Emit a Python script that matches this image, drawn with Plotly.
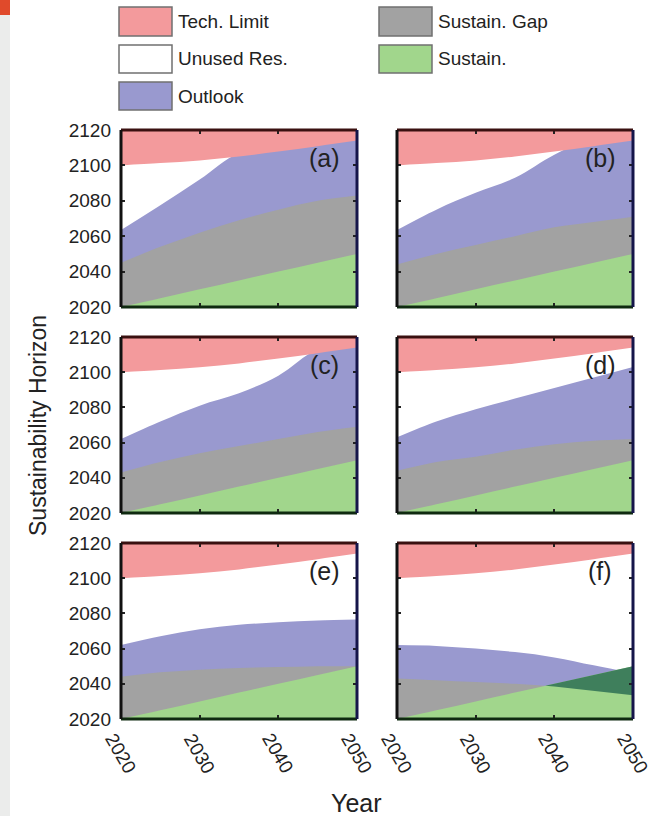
import plotly.graph_objects as go

W, H = 654, 816

# ---------------- data ----------------
YEARS = [2020, 2025, 2030, 2035, 2040, 2045, 2050]
SUSTAIN = [2020, 2025, 2030, 2035, 2040, 2045, 2050]
TECH_LIMIT = [2100, 2101.3, 2102.8, 2105, 2107.8, 2110.8, 2114]

OUTLOOK_UPPER_A = [2063.5, 2077.5, 2092, 2107, 2111, 2114, 2117]
OUTLOOK_LOWER_A = [2045, 2054, 2062, 2069, 2075, 2080, 2083]
OUTLOOK_UPPER_B = [2063.5, 2075, 2084.5, 2093, 2106, 2116, 2119]
OUTLOOK_LOWER_B = [2044, 2050, 2055, 2060, 2065, 2068, 2071]
OUTLOOK_UPPER_C = [2062, 2072, 2081, 2088, 2098, 2113, 2117]
OUTLOOK_LOWER_C = [2043, 2049, 2054, 2058, 2062, 2066, 2069]
OUTLOOK_UPPER_D = [2063, 2072, 2079, 2085, 2091, 2097, 2103]
OUTLOOK_LOWER_D = [2044, 2049, 2052, 2056, 2059, 2061, 2062]
OUTLOOK_UPPER_E = [2062, 2067, 2071, 2073.5, 2075, 2076, 2076.5]
OUTLOOK_LOWER_E = [2044, 2046.5, 2048, 2049, 2049.5, 2050, 2050]
OUTLOOK_UPPER_F = [2062, 2061.5, 2060, 2058, 2055, 2050.5, 2046]
OUTLOOK_LOWER_F = [2043, 2042, 2041, 2040, 2038.5, 2036, 2033.5]

PANEL_LABELS = ["(a)", "(b)", "(c)", "(d)", "(e)", "(f)"]
UPPERS = [OUTLOOK_UPPER_A, OUTLOOK_UPPER_B, OUTLOOK_UPPER_C,
          OUTLOOK_UPPER_D, OUTLOOK_UPPER_E, OUTLOOK_UPPER_F]
LOWERS = [OUTLOOK_LOWER_A, OUTLOOK_LOWER_B, OUTLOOK_LOWER_C,
          OUTLOOK_LOWER_D, OUTLOOK_LOWER_E, OUTLOOK_LOWER_F]

LEGEND_COL1 = ["Tech. Limit", "Unused Res.", "Outlook"]
LEGEND_COL2 = ["Sustain. Gap", "Sustain."]
X_TICKS = [2020, 2030, 2040, 2050]
Y_TICKS = [2020, 2040, 2060, 2080, 2100, 2120]

# ---------------- style ----------------
C_RED = "#f39a9c"
C_WHITE = "#ffffff"
C_PURPLE = "#9999cf"
C_GRAY = "#a2a2a2"
C_GREEN = "#a1d68c"
C_DKGREEN = "#3f7f5c"
FONT = "Liberation Sans, Arial, sans-serif"
TXT = "#222222"

def px(x):
    return x / W

def py(y):
    return 1 - y / H

COLS = [(121, 357), (397, 633)]
ROWS = [(130, 307), (337, 513), (543, 719)]
YMIN, YMAX = 2020, 2120


def band(xs, lo, hi, color, xa, ya, shape="spline"):
    """Two traces: invisible lower edge, then upper edge filled down to it."""
    t_lo = go.Scatter(x=list(xs), y=list(lo), mode="lines",
                      line=dict(width=0, color=color, shape=shape),
                      hoverinfo="skip", showlegend=False, xaxis=xa, yaxis=ya)
    t_hi = go.Scatter(x=list(xs), y=list(hi), mode="lines", fill="tonexty",
                      fillcolor=color,
                      line=dict(width=0, color=color, shape=shape),
                      hoverinfo="skip", showlegend=False, xaxis=xa, yaxis=ya)
    return [t_lo, t_hi]


def overlap_region(xs, lo, hi):
    """Region between lo and hi where hi > lo, with crossing points added."""
    ex, elo, ehi = [], [], []
    for i in range(len(xs)):
        if i > 0:
            d0 = hi[i - 1] - lo[i - 1]
            d1 = hi[i] - lo[i]
            if d0 * d1 < 0:
                t = d0 / (d0 - d1)
                xc = xs[i - 1] + t * (xs[i] - xs[i - 1])
                yc = lo[i - 1] + t * (lo[i] - lo[i - 1])
                ex.append(xc); elo.append(yc); ehi.append(yc)
        ex.append(xs[i]); elo.append(lo[i]); ehi.append(max(lo[i], hi[i]))
    return ex, elo, ehi


fig = go.Figure()
layout = dict(width=W, height=H, autosize=False,
              margin=dict(l=0, r=0, t=0, b=0, pad=0, autoexpand=False),
              paper_bgcolor="white", plot_bgcolor="white",
              shapes=[], annotations=[])

for k in range(6):
    r, c = divmod(k, 2)
    idx = "" if k == 0 else str(k + 1)
    xa, ya = "x" + idx, "y" + idx
    x0, x1 = COLS[c]
    y0, y1 = ROWS[r]
    base = [YMIN] * len(YEARS)
    top = [YMAX] * len(YEARS)
    up, lo = UPPERS[k], LOWERS[k]

    fig.add_traces(band(YEARS, base, up, C_PURPLE, xa, ya))
    fig.add_traces(band(YEARS, base, lo, C_GRAY, xa, ya))
    fig.add_traces(band(YEARS, base, SUSTAIN, C_GREEN, xa, ya))
    ex, elo, ehi = overlap_region(YEARS, lo, SUSTAIN)
    if any(h > l for h, l in zip(ehi, elo)):
        fig.add_traces(band(ex, elo, ehi, C_DKGREEN, xa, ya, shape="linear"))
    fig.add_traces(band(YEARS, TECH_LIMIT, top, C_RED, xa, ya))

    layout["xaxis" + idx] = dict(
        domain=[px(x0), px(x1)], anchor=ya, range=[2020, 2050],
        tickvals=X_TICKS, showticklabels=False, automargin=False,
        ticks="inside", ticklen=4, tickwidth=2, tickcolor="#222",
        mirror="ticks", showgrid=False, zeroline=False, showline=False,
        fixedrange=True)
    layout["yaxis" + idx] = dict(
        domain=[py(y1), py(y0)], anchor=xa, range=[YMIN, YMAX],
        tickvals=Y_TICKS, ticktext=[str(v) for v in Y_TICKS], automargin=False,
        showticklabels=(c == 0), ticks="inside", ticklen=4, tickwidth=2,
        ticklabelstandoff=9,
        tickcolor="#222", mirror="ticks", showgrid=False, zeroline=False,
        showline=False, tickfont=dict(family=FONT, size=19, color=TXT),
        fixedrange=True)

    # rotated year labels under the bottom row, centred on each tick
    if r == 2:
        for v in X_TICKS:
            layout["annotations"].append(dict(
                text=str(v), xref=xa, yref="paper", x=v, y=py(y1 + 34),
                xanchor="center", yanchor="middle", textangle=60,
                showarrow=False, font=dict(family=FONT, size=19, color=TXT)))

    # frame
    lw = 3
    for (ax0, ay0, ax1, ay1, col) in [
        (x0, y0, x1, y0, "#3a1010"),
        (x0, y1, x1, y1, "#0f2a10"),
        (x0, y0, x0, y1, "#111111"),
        (x1, y0, x1, y1, "#15154a"),
    ]:
        layout["shapes"].append(dict(type="line", xref="paper", yref="paper",
                                     x0=px(ax0), y0=py(ay0), x1=px(ax1), y1=py(ay1),
                                     line=dict(color=col, width=lw)))
    layout["annotations"].append(dict(
        text=PANEL_LABELS[k], xref="paper", yref="paper",
        x=px(x1 - 33), y=py(y0 + 28), xanchor="center", yanchor="middle",
        showarrow=False, font=dict(family=FONT, size=25, color=TXT)))

# left page strip
layout["shapes"].insert(0, dict(type="rect", xref="paper", yref="paper",
                                x0=0, x1=px(10), y0=0, y1=1, layer="below",
                                fillcolor="#ebeceb", line=dict(width=0)))
layout["shapes"].insert(1, dict(type="rect", xref="paper", yref="paper",
                                x0=0, x1=px(10), y0=py(15), y1=1, layer="below",
                                fillcolor="#e04a2b", line=dict(width=0)))

# legend
leg_colors1 = [C_RED, C_WHITE, C_PURPLE]
leg_colors2 = [C_GRAY, C_GREEN]
row_y = [(7, 36), (45, 73), (82, 110)]
for col_items, col_colors, sx0 in [(LEGEND_COL1, leg_colors1, 119),
                                   (LEGEND_COL2, leg_colors2, 379)]:
    for i, (name, colr) in enumerate(zip(col_items, col_colors)):
        ya0, ya1 = row_y[i]
        layout["shapes"].append(dict(type="rect", xref="paper", yref="paper",
                                     x0=px(sx0), x1=px(sx0 + 53),
                                     y0=py(ya1), y1=py(ya0), fillcolor=colr,
                                     line=dict(color="#707070", width=1.5)))
        layout["annotations"].append(dict(
            text=name, xref="paper", yref="paper", x=px(sx0 + 57),
            y=py((ya0 + ya1) / 2), xanchor="left", yanchor="middle",
            showarrow=False, font=dict(family=FONT, size=19, color=TXT)))

# axis titles
layout["annotations"].append(dict(
    text="Sustainability Horizon", xref="paper", yref="paper",
    x=px(38), y=py(426), xanchor="center", yanchor="middle", textangle=-90,
    showarrow=False, font=dict(family=FONT, size=23, color=TXT)))
layout["annotations"].append(dict(
    text="Year", xref="paper", yref="paper",
    x=px(357), y=py(803), xanchor="center", yanchor="middle",
    showarrow=False, font=dict(family=FONT, size=25, color=TXT)))

fig.update_layout(**layout)
fig.write_html("out.html", config={"displayModeBar": False},
               post_script="document.body.style.margin='0px';"
                           "document.body.style.padding='0px';")
